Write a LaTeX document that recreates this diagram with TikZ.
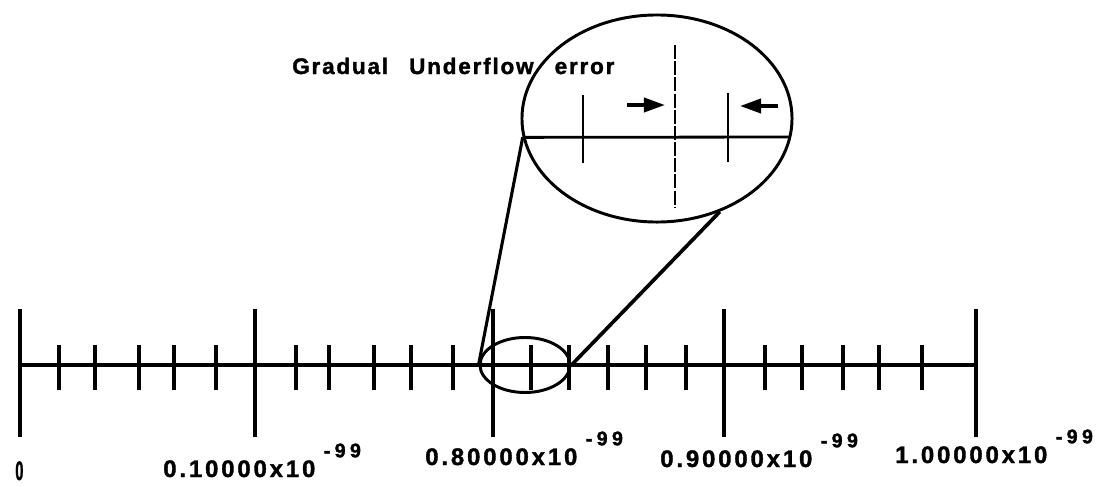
\documentclass[tikz,border=0pt]{standalone}
\usepackage{fontspec}
\setmainfont{Liberation Sans}
\newfontfamily\labfont[LetterSpace=12, FakeBold=1.5]{Liberation Sans Bold}
\newfontfamily\titlefont[LetterSpace=8, FakeBold=1.5]{Liberation Sans Bold}
\newfontfamily\supfont[LetterSpace=22, FakeBold=1.5]{Liberation Sans Bold}
\newcommand{\tenexp}[1]{\hspace{6pt}\raisebox{14pt}{\supfont\fontsize{14}{16}\selectfont #1}}
\usetikzlibrary{arrows.meta,shapes.geometric}

\begin{document}
\begin{tikzpicture}[x=0.025cm, y=-0.025cm,
	axis/.style={line width=3.5pt},
	bigtick/.style={line width=3.5pt},
	smalltick/.style={line width=2.6pt},
	lens/.style={ellipse, draw, line width=2.1pt, inner sep=0pt},
	zoomline/.style={line width=2.2pt},
	marker/.style={line width=2.6pt, -{Triangle[length=15pt,width=10pt]}},
	lab/.style={inner sep=0pt, anchor=base west, font=\labfont\fontsize{17}{20}\selectfont}]
	\useasboundingbox (0,0) rectangle (1107,487);

	% Axis
	\draw[axis] (20,365) -- (976,365);
	\foreach \x in {20,255,493,724,976}
		\draw[bigtick] (\x,309) -- (\x,437);
	\foreach \x in {59,95,139,174,216,296,329,374,411,453,531,569,608,646,686,765,802,843,879,922}
		\draw[smalltick] (\x,345) -- (\x,390);

	% Labels
	\node[lab, font=\labfont\fontsize{19}{21}\selectfont] (l0) at (15,480) {\scalebox{0.55}[1]{0}};
	\node[lab] (l1) at (163,477) {0.10000x10\tenexp{-99}};
	\node[lab] (l8) at (425,465) {0.80000x10\tenexp{-99}};
	\node[lab] (l9) at (660,467) {0.90000x10\tenexp{-99}};
	\node[lab] (l10) at (895,463) {1.00000x10\tenexp{-99}};
	\node[lab, font=\titlefont\fontsize{16}{19}\selectfont] (title) at (292,74) {Gradual\hspace{15pt}Underflow\hspace{15pt}error};

	% Lenses
	\node[lens, minimum width=2.25cm, minimum height=1.375cm] (small) at (525,365) {};
	\node[lens, minimum width=6.75cm, minimum height=5.175cm] (big) at (657,118.5) {};
	\draw[zoomline] (big.188) -- (small.west);
	\draw[zoomline, line width=2.6pt] (big.-56) -- (small.east);

	% Inside the big lens
	\coordinate (cl) at (big.188);
	\coordinate (cr) at (790,137);
	\draw[line width=2pt] (cl) -- (cr);
	\draw[line width=2pt] (583,95) -- (583,163);
	\draw[line width=2pt] (728,93) -- (728,162);
	\draw[line width=1.7pt, dash pattern=on 10pt off 1.5pt] (675,45) -- (675,207);
	\coordinate (a1) at (627,105);
	\coordinate (a2) at (665,105);
	\coordinate (b1) at (778,106);
	\coordinate (b2) at (740,106);
	\draw[marker] (a1) -- (a2);
	\draw[marker] (b1) -- (b2);
\end{tikzpicture}
\end{document}
